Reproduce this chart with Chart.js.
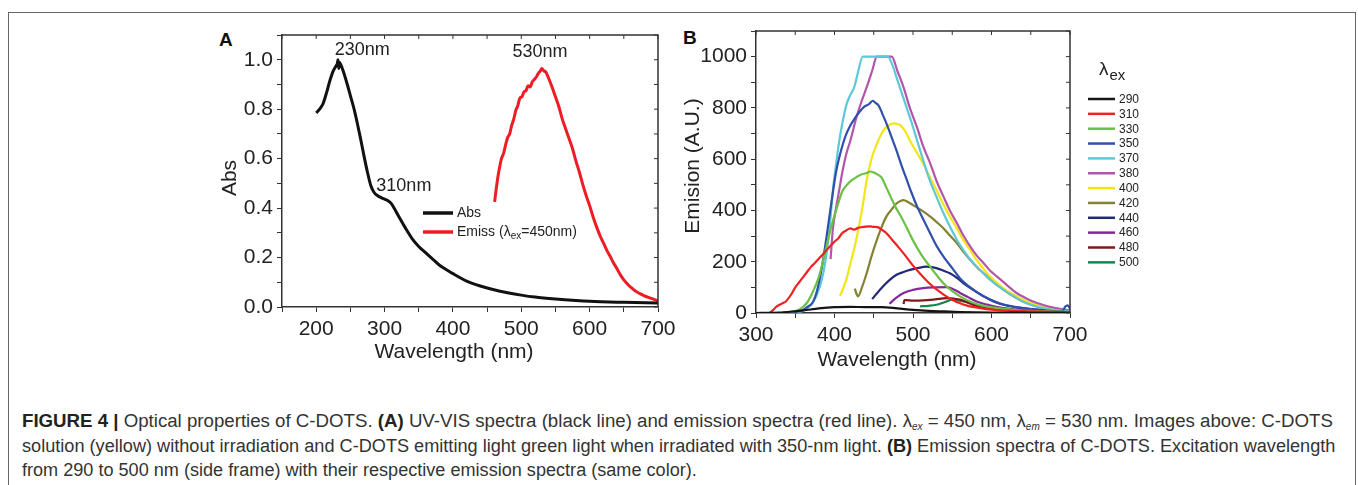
<!DOCTYPE html>
<html>
<head>
<meta charset="utf-8">
<script src="https://cdn.jsdelivr.net/npm/chart.js@4.4.1/dist/chart.umd.min.js"></script>
<style>
  html, body { margin:0; padding:0; background:#fff; }
  body { width:1358px; height:485px; overflow:hidden; position:relative; font-family:"Liberation Sans", Arial, sans-serif; color:#222; }
  #frame { position:absolute; left:8px; top:12px; width:1346px; height:490px; border:1px solid #666; border-bottom:none; }
  .panel { position:absolute; font-weight:bold; font-size:19px; line-height:22px; color:#111; }
  .wrap { position:absolute; }
  .cap { position:absolute; left:22px; white-space:nowrap; font-size:15px; line-height:20px; color:#333; transform-origin:0 50%; }
  .cap b { color:#222; }
  .cap sub { font-size:10px; vertical-align:-3px; font-style:italic; }
</style>
</head>
<body>
<div id="frame"></div>
<div class="panel" style="left:219px; top:29px;">A</div>
<div class="panel" style="left:683px; top:27px;">B</div>
<div class="wrap" style="left:200px; top:20px; width:490px; height:350px;"><canvas id="cA"></canvas></div>
<div class="wrap" style="left:680px; top:20px; width:480px; height:355px;"><canvas id="cB"></canvas></div>

<div class="cap" id="l1" style="top:411px;"><b>FIGURE 4 |</b> Optical properties of C-DOTS. <b>(A)</b> UV-VIS spectra (black line) and emission spectra (red line). λ<sub>ex</sub> = 450 nm, λ<sub>em</sub> = 530 nm. Images above: C-DOTS</div>
<div class="cap" id="l2" style="top:436px;">solution (yellow) without irradiation and C-DOTS emitting light green light when irradiated with 350-nm light. <b>(B)</b> Emission spectra of C-DOTS. Excitation wavelength</div>
<div class="cap" id="l3" style="top:460px;">from 290 to 500 nm (side frame) with their respective emission spectra (same color).</div>

<script>
// ---------------- Panel A data ----------------
const absWl  = [200,205,210,215,220,225,229,231,232,233,234,236,240,245,250,255,260,265,270,275,280,285,290,295,300,305,310,315,320,330,340,350,360,370,380,390,400,420,440,460,480,500,520,550,580,600,650,700];
const absVal = [0.785,0.800,0.822,0.865,0.915,0.955,0.975,0.985,1.0,0.965,0.99,0.98,0.95,0.905,0.855,0.805,0.745,0.68,0.61,0.545,0.49,0.462,0.45,0.442,0.436,0.43,0.418,0.395,0.37,0.322,0.278,0.245,0.22,0.195,0.17,0.152,0.135,0.105,0.085,0.07,0.058,0.048,0.040,0.032,0.026,0.023,0.019,0.016];
const emWl  = [461,463,466,468,471,474,477,480,483,486,489,492,495,498,501,504,507,510,513,516,519,522,525,528,530,533,536,540,545,550,555,560,565,570,575,580,585,590,595,600,605,610,615,620,625,630,635,640,645,650,655,660,665,670,675,680,685,690,695,700];
const emVal = [0.425,0.47,0.53,0.56,0.60,0.62,0.655,0.685,0.70,0.735,0.76,0.795,0.815,0.845,0.85,0.87,0.875,0.895,0.89,0.91,0.92,0.93,0.945,0.955,0.965,0.955,0.95,0.925,0.89,0.85,0.81,0.76,0.72,0.68,0.64,0.59,0.545,0.495,0.45,0.41,0.365,0.325,0.29,0.26,0.23,0.205,0.178,0.155,0.13,0.11,0.094,0.08,0.069,0.06,0.052,0.045,0.04,0.035,0.03,0.025];
const seriesA = ['Abs', 'Emiss'];
const xTicksA  = [150,200,250,300,350,400,450,500,550,600,650,700];
const xLabelsA = [200,300,400,500,600,700];
const yTicksA  = [0,0.1,0.2,0.3,0.4,0.5,0.6,0.7,0.8,0.9,1.0,1.1];
const yLabelsA = [0,0.2,0.4,0.6,0.8,1.0];
const notesA = [ {text:'230nm', x:227, y:1.020}, {text:'530nm', x:487, y:1.013}, {text:'310nm', x:288, y:0.470} ];
const titlesA = { x: 'Wavelength (nm)', y: 'Abs' };

// ---------------- Panel B data ----------------
const exLabels = ['290','310','330','350','370','380','400','420','440','460','480','500'];
const wl290 = [300,320,340,360,380,400,420,440,460,480,500,520,540,560,600,650,700];
const em290 = [0,1,4,10,18,23,24,23,23,18,12,8,6,4,2,1,0.5];
const wl310 = [317,322,326,330,334,338,342,346,350,355,360,365,370,375,380,385,390,395,400,405,410,415,420,425,430,435,440,445,450,455,460,465,470,475,480,490,500,510,520,530,540,550,560,570,580,600,620,650,680,700];
const em310 = [0,12,25,32,38,45,60,78,100,120,140,160,180,195,212,228,246,262,278,292,312,322,330,325,332,335,337,338,336,335,325,315,298,280,262,225,185,150,118,92,70,52,38,28,22,13,9,6,4,3];
const wl330 = [335,345,355,365,372,380,386,392,398,404,410,416,422,428,434,440,446,450,455,460,466,472,478,484,490,498,506,514,522,530,540,550,560,575,590,615,650,700];
const em330 = [3,5,13,40,80,140,210,290,360,420,475,500,518,530,540,545,552,548,540,528,490,450,412,380,345,295,250,212,180,148,112,85,65,42,28,16,8,5];
const wl350 = [343,352,360,366,372,378,384,390,396,402,408,414,420,426,432,438,444,449,452,456,462,468,474,480,486,492,498,506,514,522,530,540,550,560,575,590,610,630,660,690,694,697,700];
const em350 = [0,5,12,25,40,90,180,300,430,550,630,690,730,760,785,805,815,828,820,810,770,725,675,625,570,520,470,410,360,310,262,215,175,135,95,65,38,24,12,6,25,30,18];
const wl370 = [352,360,368,376,382,386,390,394,398,402,406,410,415,420,425,430,436,468,474,480,486,492,498,505,513,521,530,538,547,556,564,572,581,590,598,615,640,666,700];
const em370 = [3,8,25,60,110,160,235,340,480,580,670,740,810,850,880,940,1000,1000,965,910,855,800,745,675,596,520,453,395,337,285,246,212,181,154,130,91,45,19,6];
const wl380 = [395,398,402,406,410,415,420,428,435,441,448,454,473,480,488,496,505,513,522,530,539,547,556,564,573,581,590,598,607,620,632,645,658,680,700];
const em380 = [210,330,410,480,550,620,670,764,830,881,945,1000,1000,945,880,800,725,650,583,515,453,400,350,303,259,225,194,166,142,108,78,56,39,20,10];
const wl400 = [407,411,415,420,425,430,436,441,447,454,460,466,471,475,480,484,490,496,504,513,521,530,538,547,556,564,573,581,590,598,607,615,628,640,653,666,683,700];
const em400 = [67,95,130,190,250,320,420,518,600,660,700,725,735,740,737,732,710,673,630,583,532,479,428,376,330,285,245,207,172,142,118,97,72,52,36,23,14,9];
const wl420 = [426,428,430,435,441,447,454,460,466,473,479,484,488,494,500,511,522,530,539,547,556,564,573,581,590,602,615,628,640,653,666,683,700];
const em420 = [95,75,65,100,155,220,285,335,376,405,427,437,440,432,421,400,376,355,330,302,272,240,207,180,155,122,91,65,45,30,19,11,6];
const wl440 = [448,455,462,470,479,488,496,506,517,524,530,538,547,556,564,577,590,602,615,636,658,680,700];
const em440 = [54,80,104,128,149,160,168,175,181,179,175,166,155,137,117,90,65,46,32,20,13,8,5];
const wl460 = [470,478,488,500,513,528,543,552,560,570,581,598,615,650,700];
const em460 = [36,58,78,90,97,100,101,92,78,62,45,30,19,10,5];
const wl480 = [488,489,491,500,513,528,543,552,560,570,581,598,615,650,700];
const em480 = [35,50,50,48,49,53,58,56,52,40,26,18,13,7,4];
const wl500 = [509,520,530,540,551,562,573,584,594,615,636,665,700];
const em500 = [26,28,32,42,52,47,39,30,23,15,10,6,4];
const wlB = [wl290,wl310,wl330,wl350,wl370,wl380,wl400,wl420,wl440,wl460,wl480,wl500];
const emB = [em290,em310,em330,em350,em370,em380,em400,em420,em440,em460,em480,em500];
const xTicksB  = [300,350,400,450,500,550,600,650,700];
const xLabelsB = [300,400,500,600,700];
const yTicksB  = [0,100,200,300,400,500,600,700,800,900,1000,1100];
const yLabelsB = [0,200,400,600,800,1000];
const titlesB = { x: 'Wavelength (nm)', y: 'Emision (A.U.)' };

// ---------------- styles ----------------
const FONT = '"Liberation Sans", Arial, sans-serif';
const AXC = '#333';
const colorsA = ['#111111', '#ee1c24'];
const colorsB = ['#151515','#ee2222','#6cc045','#3050ac','#5ec8d8','#b455ac','#f2e614','#828232','#222a78','#86289a','#801a1a','#12884a'];

function pts(xs, ys) { return xs.map((x, i) => ({x: x, y: ys[i]})); }
function near(list, v) { return list.some(l => Math.abs(l - v) < 1e-6); }

const framePlugin = {
  id: 'frame',
  afterDraw(chart) {
    const {ctx, chartArea: {left, right, top, bottom}, scales: {x, y}} = chart;
    ctx.save();
    ctx.strokeStyle = AXC;
    ctx.lineWidth = 1.5;
    ctx.beginPath();
    ctx.moveTo(left, top); ctx.lineTo(right, top); ctx.lineTo(right, bottom);
    ctx.stroke();
    ctx.lineWidth = 1;
    ctx.beginPath();
    x.ticks.forEach(t => { const p = x.getPixelForValue(t.value); ctx.moveTo(p, top); ctx.lineTo(p, top + 4); });
    y.ticks.forEach(t => { const p = y.getPixelForValue(t.value); ctx.moveTo(right, p); ctx.lineTo(right - 4, p); });
    ctx.stroke();
    // axis titles
    const o = chart.options.plugins.axisTitles;
    ctx.fillStyle = '#222';
    ctx.font = '21px ' + FONT;
    ctx.textAlign = 'center';
    ctx.textBaseline = 'middle';
    ctx.fillText(o.x, (left + right) / 2 + o.dx, bottom + o.xOff);
    ctx.translate(left - o.yOff, (top + bottom) / 2 + o.dy);
    ctx.rotate(-Math.PI / 2);
    ctx.fillText(o.y, 0, 0);
    ctx.restore();
  }
};

function axisOpts(min, max, ticksArr, labelsArr, fmt, fitSize, isX) {
  return {
    type: 'linear', min: min, max: max,
    afterBuildTicks(s) { s.ticks = ticksArr.map(v => ({value: v})); },
    afterFit(s) {
      if (isX) s.height = fitSize; else s.width = fitSize;
      s.paddingTop = 0; s.paddingBottom = 0; s.paddingLeft = 0; s.paddingRight = 0;
    },
    ticks: {
      autoSkip: false, maxRotation: 0, padding: isX ? 5 : 4,
      color: '#222', font: {family: FONT, size: 21},
      callback: (v) => near(labelsArr, v) ? fmt(v) : ''
    },
    grid: { drawOnChartArea: false, drawTicks: true, tickLength: 5, tickColor: AXC, tickWidth: 1 },
    border: { color: AXC, width: 1.5 },
    title: { display: false }
  };
}

// ---------------- Chart A ----------------
const annotA = {
  id: 'annotA',
  afterDraw(chart) {
    const {ctx, chartArea: {left, top}, scales: {x, y}} = chart;
    ctx.save();
    ctx.fillStyle = '#222';
    ctx.font = '18px ' + FONT;
    ctx.textBaseline = 'alphabetic';
    ctx.textAlign = 'left';
    notesA.forEach(n => ctx.fillText(n.text, x.getPixelForValue(n.x), y.getPixelForValue(n.y)));
    // legend
    const ds = chart.data.datasets;
    const lx = left + 141, tx = left + 175;
    const rows = [top + 178, top + 197];
    ds.forEach((d, i) => {
      ctx.strokeStyle = d.borderColor; ctx.lineWidth = 3.5;
      ctx.beginPath(); ctx.moveTo(lx, rows[i]); ctx.lineTo(lx + 30, rows[i]); ctx.stroke();
    });
    ctx.fillStyle = '#222';
    ctx.textBaseline = 'middle';
    ctx.font = '14px ' + FONT;
    ctx.fillText(ds[0].label, tx, rows[0]);
    let cx = tx;
    const p1 = ds[1].label + ' (λ';
    ctx.fillText(p1, cx, rows[1]); cx += ctx.measureText(p1).width;
    ctx.font = '10px ' + FONT;
    ctx.fillText('ex', cx, rows[1] + 4); cx += ctx.measureText('ex').width;
    ctx.font = '14px ' + FONT;
    ctx.fillText('=450nm)', cx, rows[1]);
    ctx.restore();
  }
};

new Chart(document.getElementById('cA'), {
  type: 'line',
  data: {
    datasets: [
      { label: seriesA[0], data: pts(absWl, absVal), borderColor: colorsA[0], borderWidth: 3, pointRadius: 0, cubicInterpolationMode: 'monotone', fill: false },
      { label: seriesA[1], data: pts(emWl, emVal), borderColor: colorsA[1], borderWidth: 3, pointRadius: 0, cubicInterpolationMode: 'monotone', fill: false }
    ]
  },
  options: {
    responsive: true, maintainAspectRatio: false, animation: false, devicePixelRatio: 1,
    layout: { padding: { top: 15, right: 32, left: 0, bottom: 0 } },
    plugins: { legend: { display: false }, tooltip: { enabled: false },
      axisTitles: { x: titlesA.x, y: titlesA.y, dx: -16, xOff: 45, yOff: 52, dy: 7 } },
    scales: {
      x: axisOpts(150, 700, xTicksA, xLabelsA, v => String(v), 63, true),
      y: axisOpts(0, 1.1, yTicksA, yLabelsA, v => v.toFixed(1), 82, false)
    }
  },
  plugins: [framePlugin, annotA]
});

// ---------------- Chart B ----------------
const legendB = {
  id: 'legendB',
  afterDraw(chart) {
    const {ctx, chartArea: {right, top}} = chart;
    ctx.save();
    ctx.fillStyle = '#222';
    ctx.textAlign = 'left';
    ctx.textBaseline = 'alphabetic';
    ctx.font = '19px ' + FONT;
    ctx.fillText('λ', right + 29, top + 44);
    const lw = ctx.measureText('λ').width;
    ctx.font = '15px ' + FONT;
    ctx.fillText('ex', right + 29 + lw + 1, top + 49);
    ctx.textBaseline = 'middle';
    ctx.font = '12px ' + FONT;
    chart.data.datasets.forEach((d, i) => {
      const yy = top + 68 + i * 14.85;
      ctx.strokeStyle = d.borderColor; ctx.lineWidth = 2.5;
      ctx.beginPath(); ctx.moveTo(right + 18, yy); ctx.lineTo(right + 45, yy); ctx.stroke();
      ctx.fillText(d.label, right + 49, yy + 0.5);
    });
    ctx.restore();
  }
};

new Chart(document.getElementById('cB'), {
  type: 'line',
  data: {
    datasets: exLabels.map((lab, i) => ({
      label: lab, data: pts(wlB[i], emB[i]), borderColor: colorsB[i], borderWidth: 2.2,
      pointRadius: 0, cubicInterpolationMode: 'monotone', fill: false
    }))
  },
  options: {
    responsive: true, maintainAspectRatio: false, animation: false, devicePixelRatio: 1,
    layout: { padding: { top: 11, right: 90, left: 0, bottom: 0 } },
    plugins: { legend: { display: false }, tooltip: { enabled: false },
      axisTitles: { x: titlesB.x, y: titlesB.y, dx: -16, xOff: 47, yOff: 63, dy: -6 } },
    scales: {
      x: axisOpts(300, 700, xTicksB, xLabelsB, v => String(v), 62, true),
      y: axisOpts(0, 1100, yTicksB, yLabelsB, v => String(v), 76, false)
    }
  },
  plugins: [framePlugin, legendB]
});

// ---------------- caption fitting ----------------
const capTargets = { l1: 1311, l2: 1313, l3: 675 };
(function fitCaption() {
  const l1 = document.getElementById('l1');
  const w1 = l1.scrollWidth;
  const fs = 15 * capTargets.l1 / w1;
  ['l1','l2','l3'].forEach(id => { document.getElementById(id).style.fontSize = fs.toFixed(2) + 'px'; });
  ['l1','l2','l3'].forEach(id => {
    const el = document.getElementById(id);
    const w = el.scrollWidth;
    el.style.transform = 'scaleX(' + (capTargets[id] / w).toFixed(4) + ')';
  });
})();
</script>
</body>
</html>
